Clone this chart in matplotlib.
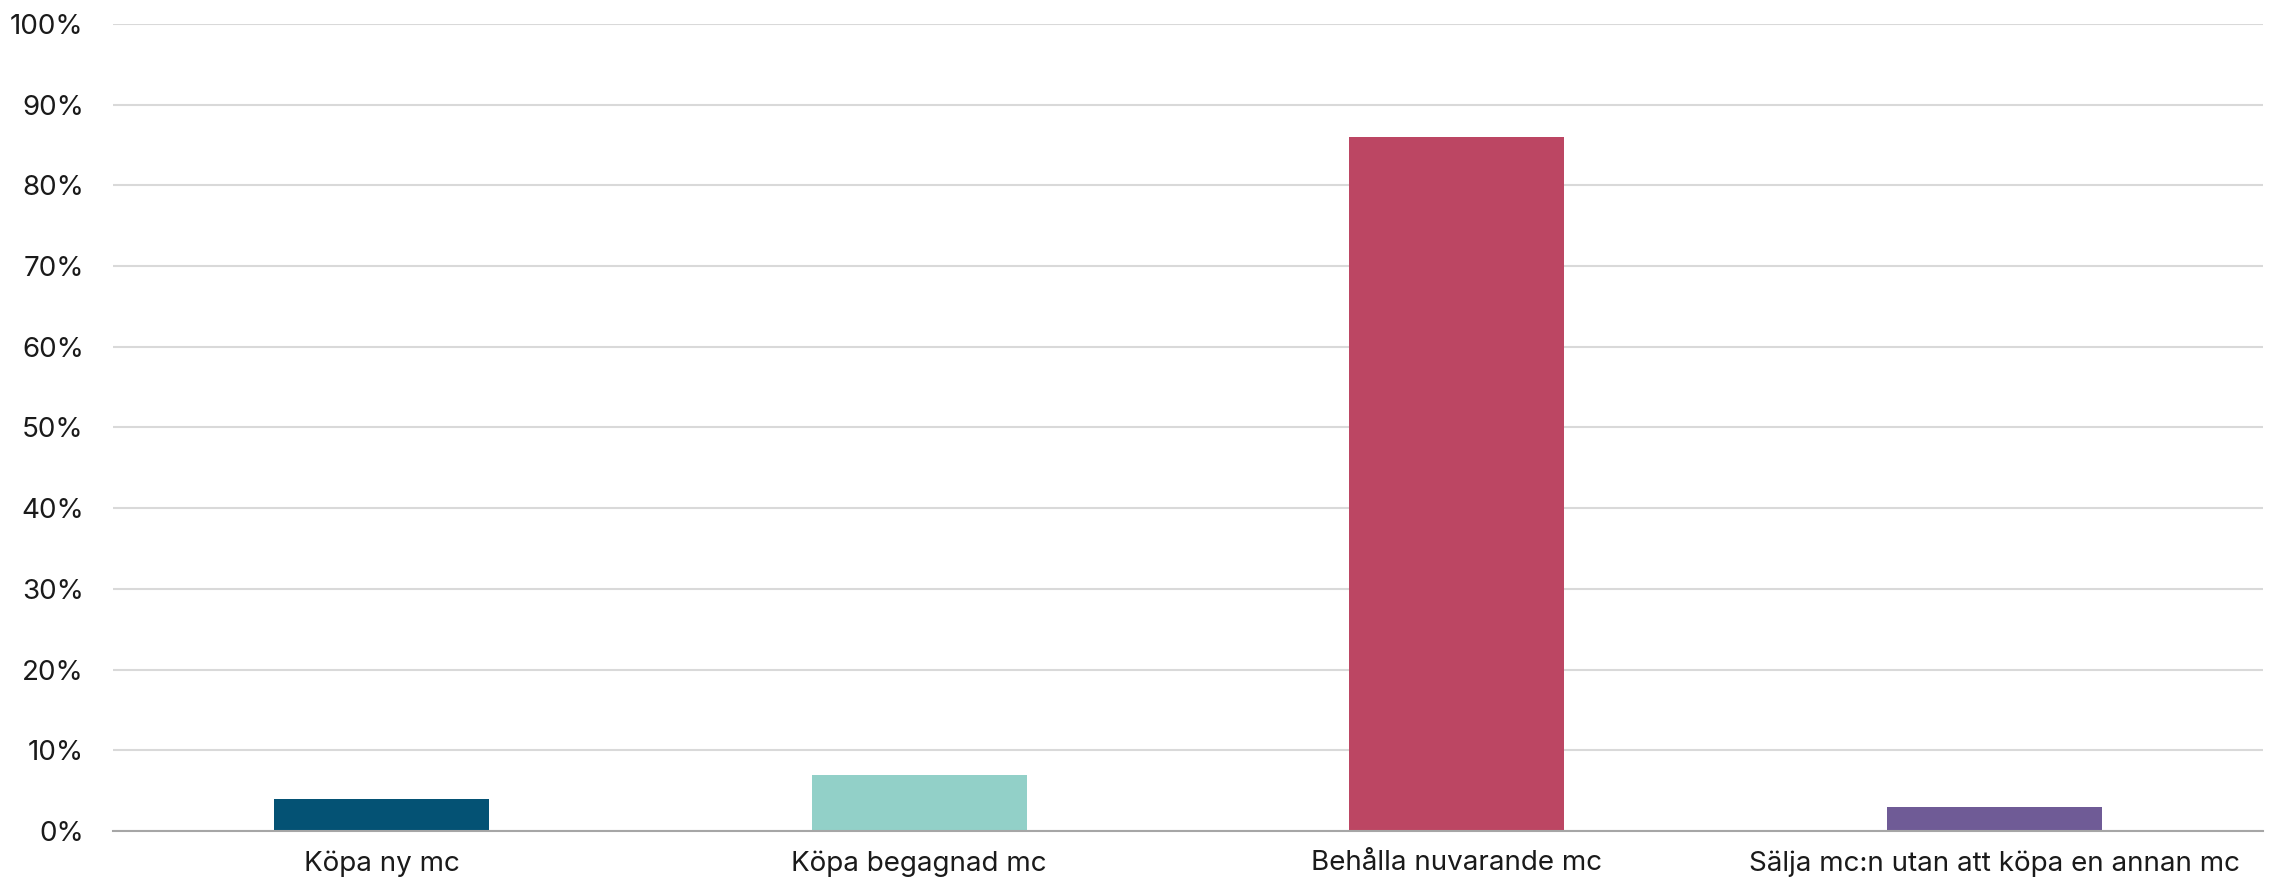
import matplotlib
matplotlib.use("Agg")
import matplotlib.pyplot as plt
from matplotlib.ticker import FuncFormatter, MultipleLocator

categories = ["Köpa ny mc", "Köpa begagnad mc", "Behålla nuvarande mc",
              "Sälja mc:n utan att köpa en annan mc"]
values = [4, 7, 86, 3]
colors = ["#045274", "#92d0c8", "#bc4663", "#6f5b96"]

plt.rcParams['font.family'] = ['Inter', 'DejaVu Sans']

fig = plt.figure(figsize=(22.77, 8.85), dpi=100)
ax = fig.add_axes([0.0496, 0.061, 0.9443, 0.9119])

x = list(range(len(categories)))
ax.bar(x, values, width=0.4, color=colors, zorder=3)

ax.set_xlim(-0.5, len(categories) - 0.5)
ax.set_ylim(0, 100)
ax.yaxis.set_major_locator(MultipleLocator(10))
ax.yaxis.set_major_formatter(FuncFormatter(lambda v, p: f"{int(v)}%"))
ax.grid(axis='y', color='#d9d9d9', linewidth=1.5, zorder=0)
ax.set_axisbelow(True)

for s in ['top', 'right', 'left']:
    ax.spines[s].set_visible(False)
ax.spines['bottom'].set_color('#a6a6a6')
ax.spines['bottom'].set_linewidth(1.5)
ax.spines['bottom'].set_zorder(4)

ax.set_xticks(x)
ax.set_xticklabels(categories)
ax.tick_params(axis='x', length=0, pad=14, labelsize=20, labelcolor='#1a1a1a')
ax.tick_params(axis='y', length=0, pad=21, labelsize=20, labelcolor='#1a1a1a')

fig.savefig("out.png", dpi=100, facecolor='white')
